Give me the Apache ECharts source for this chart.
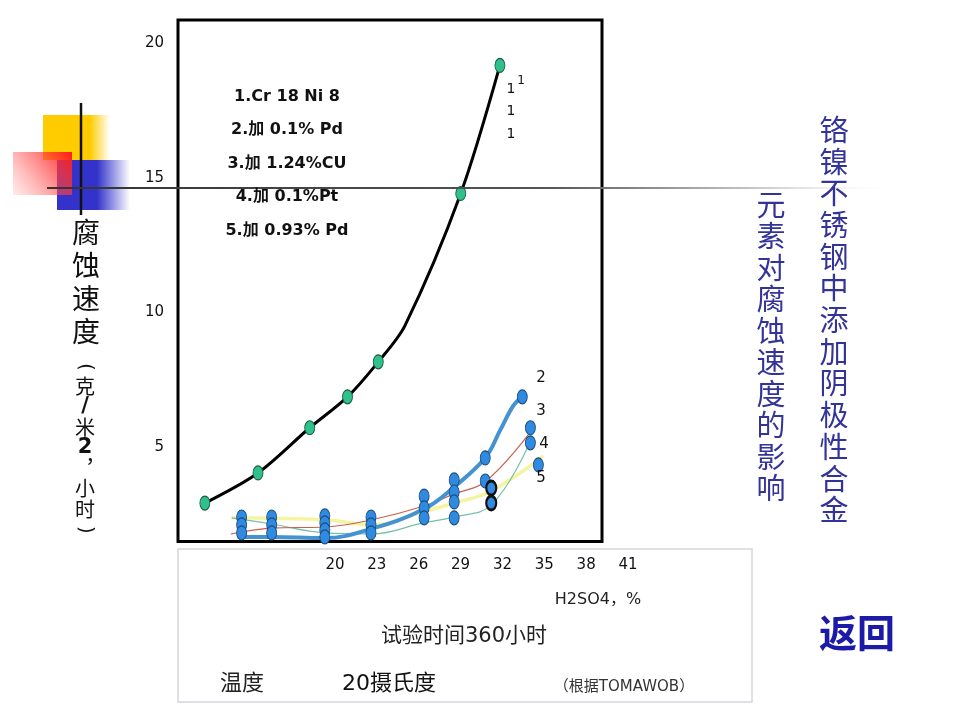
<!DOCTYPE html>
<html>
<head>
<meta charset="utf-8">
<script src="https://cdn.jsdelivr.net/npm/echarts@6/dist/echarts.min.js"></script>
<style>
  html, body { margin: 0; padding: 0; background: #fff; }
  #chart { width: 960px; height: 720px; }
</style>
</head>
<body>
<div id="chart"></div>
<script>
// bottom tick labels (H2SO4 %)
const xLabels = ["20", "23", "26", "29", "32", "35", "38", "41"];
const yTicks = [5, 10, 15, 20];

// curve 1: Cr18Ni8
const line1X = [10.7, 14.5, 18.2, 20.9, 23.1, 25.0, 29.0, 31.8];
const line1Y = [2.91, 4.03, 5.71, 6.86, 8.16, 9.5, 14.42, 19.18];
const mark1X = [10.7, 14.5, 18.2, 20.9, 23.1, 29.0, 31.8];
const mark1Y = [2.91, 4.03, 5.71, 6.86, 8.16, 14.42, 19.18];

// curve 2: + 0.1% Pd
const line2X = [13.05, 15.48, 19.28, 22.58, 26.38, 28.53, 30.75, 31.83, 32.76, 33.4];
const line2Y = [1.65, 1.65, 1.61, 1.95, 2.69, 3.51, 4.59, 5.63, 6.53, 6.86];
// curve 3: + 1.24% Cu
const line3X = [12.55, 15.48, 19.28, 22.58, 26.38, 28.53, 30.75, 33.83];
const line3Y = [1.76, 1.98, 2.02, 2.28, 2.8, 3.25, 3.7, 5.45];
// curve 4: + 0.1% Pt
const line4X = [12.62, 15.48, 19.28, 22.65, 26.31, 28.53, 31.18, 33.83];
const line4Y = [2.36, 2.13, 1.8, 1.76, 2.17, 2.39, 2.84, 5.04];
// curve 5: + 0.93% Pd
const line5X = [12.62, 19.43, 22.65, 26.31, 28.53, 31.18, 34.91];
const line5Y = [2.36, 2.28, 2.1, 2.58, 2.91, 3.36, 4.66];

// blue measurement points
const blueMarkX = [13.33, 13.33, 13.33, 15.48, 15.48, 15.48, 19.28, 19.28, 19.28, 19.28,
  22.58, 22.58, 22.58, 26.38, 26.38, 26.38, 28.53, 28.53, 28.53, 28.53,
  30.75, 30.75, 33.4, 33.98, 33.98, 34.55];
const blueMarkY = [2.39, 2.1, 1.8, 2.39, 2.1, 1.8, 2.43, 2.17, 1.91, 1.65,
  2.39, 2.1, 1.8, 3.17, 2.73, 2.36, 3.77, 3.32, 2.95, 2.36,
  4.59, 3.73, 6.86, 5.71, 5.15, 4.33];
const hlMarkX = [31.18, 31.18];
const hlMarkY = [3.47, 2.91];

const zip = (xs, ys) => xs.map((x, i) => [x, ys[i]]);
const ellipse = "path://M0,-10A10,10 0 1,1 0,10A10,10 0 1,1 0,-10Z";
const cjk = "'Noto Sans CJK SC', sans-serif";
const latin = "'DejaVu Sans', 'Noto Sans CJK SC', sans-serif";

function lineSeries(xs, ys, color, width, smooth) {
  return {
    type: "line", data: zip(xs, ys), smooth: smooth || 0.4, symbol: "none",
    lineStyle: { color: color, width: width }, z: 2
  };
}

// vertical text helper
function vtext(x, y, chars, size, color, lh, weight) {
  return {
    type: "text", x: x, y: y, z: 20,
    style: {
      text: chars.join("\n"), fill: color, font: (weight || "normal") + " " + size + "px " + cjk,
      lineHeight: lh, align: "center", verticalAlign: "top"
    }
  };
}
function txt(x, y, s, size, opts) {
  opts = opts || {};
  return {
    type: "text", x: x, y: y, z: 20, rotation: opts.rotation || 0,
    style: {
      text: s, fill: opts.color || "#111", font: (opts.weight || "normal") + " " + size + "px " + (opts.family || latin),
      align: opts.align || "center", verticalAlign: "middle"
    }
  };
}

const chart = echarts.init(document.getElementById("chart"));
chart.setOption({
  animation: false,
  backgroundColor: "#fff",
  grid: [
    { left: 178, top: 20, right: 358, bottom: 178.5, show: true, borderColor: "#000", borderWidth: 3, z: 3 },
    { left: 335, top: 548, width: 293, height: 6, show: false }
  ],
  xAxis: [
    { type: "value", min: 8.78, max: 39.1, show: false },
    {
      type: "category", gridIndex: 1, data: xLabels, boundaryGap: false,
      axisLine: { show: false }, axisTick: { show: false }, splitLine: { show: false },
      axisLabel: { interval: 0, margin: 4, fontSize: 15, color: "#111", fontFamily: "DejaVu Sans" }
    }
  ],
  yAxis: [
    {
      type: "value", min: 1.48, max: 20.87,
      axisLine: { show: false }, axisTick: { show: false }, splitLine: { show: false },
      axisLabel: { customValues: yTicks, margin: 14, fontSize: 15, color: "#111", fontFamily: "DejaVu Sans" }
    },
    { type: "value", gridIndex: 1, show: false }
  ],
  series: [
    lineSeries(line5X, line5Y, "rgba(245,243,150,0.9)", 3.5),
    lineSeries(line4X, line4Y, "#74c2a6", 1.2),
    lineSeries(line3X, line3Y, "#c9604e", 1.2),
    lineSeries(line2X, line2Y, "#4592d2", 4),
    lineSeries(line1X, line1Y, "#000", 3, 0.3),
    {
      type: "scatter", data: zip(mark1X, mark1Y), symbol: ellipse, symbolSize: [10, 14],
      itemStyle: { color: "#2fc08c", borderColor: "#1a5a42", borderWidth: 1, opacity: 1 }, z: 5
    },
    {
      type: "scatter", data: zip(blueMarkX, blueMarkY), symbol: ellipse, symbolSize: [10, 14],
      itemStyle: { color: "#2f8ae0", borderColor: "#1b4d80", borderWidth: 1, opacity: 1 }, z: 5
    },
    {
      type: "scatter", data: zip(hlMarkX, hlMarkY), symbol: ellipse, symbolSize: [10, 14],
      itemStyle: { color: "#2f8ae0", borderColor: "#111", borderWidth: 2.5, opacity: 1 }, z: 6
    }
  ],
  graphic: [
    // corner decoration
    { type: "rect", z: 1, shape: { x: 43, y: 115, width: 67, height: 45 },
      style: { fill: new echarts.graphic.LinearGradient(0, 0, 1, 0, [
        { offset: 0, color: "#ffcc00" }, { offset: 0.7, color: "#ffcc00" }, { offset: 1, color: "rgba(255,204,0,0)" }]) } },
    { type: "rect", z: 1, shape: { x: 57, y: 160, width: 73, height: 50 },
      style: { fill: new echarts.graphic.LinearGradient(0, 0, 1, 0, [
        { offset: 0, color: "#3333cc" }, { offset: 0.55, color: "#3333cc" }, { offset: 1, color: "rgba(51,51,204,0)" }]) } },
    { type: "rect", z: 1, shape: { x: 13, y: 152, width: 59, height: 43 },
      style: { fill: new echarts.graphic.LinearGradient(0, 1, 1, 0, [
        { offset: 0, color: "rgba(255,120,120,0.15)" }, { offset: 1, color: "#ff1a1a" }]) } },
    { type: "line", z: 2, shape: { x1: 81, y1: 103, x2: 81, y2: 215 }, style: { stroke: "#111", lineWidth: 2.5 } },
    { type: "line", z: 10, shape: { x1: 47, y1: 188, x2: 880, y2: 188 },
      style: { lineWidth: 2, stroke: new echarts.graphic.LinearGradient(0, 0, 1, 0, [
        { offset: 0, color: "#333" }, { offset: 0.6, color: "#555" }, { offset: 0.85, color: "#c8c8c8" }, { offset: 1, color: "rgba(230,230,230,0)" }]) } },
    // bottom info box
    { type: "rect", z: 1, shape: { x: 178, y: 549, width: 574, height: 153 },
      style: { fill: "none", stroke: "#d5d5de", lineWidth: 1.5 } },
    // legend
    txt(287, 97, "1.Cr 18 Ni 8", 16, { weight: "bold" }),
    txt(287, 130, "2.加 0.1% Pd", 16, { weight: "bold" }),
    txt(287, 164, "3.加 1.24%CU", 16, { weight: "bold" }),
    txt(287, 197, "4.加 0.1%Pt", 16, { weight: "bold" }),
    txt(287, 231, "5.加 0.93% Pd", 16, { weight: "bold" }),
    // curve labels
    txt(511, 89, "1", 14), txt(521, 81, "1", 12), txt(511, 111, "1", 14), txt(511, 134, "1", 14),
    txt(541, 378, "2", 15), txt(541, 411, "3", 15), txt(544, 444, "4", 15), txt(541, 478, "5", 15),
    // axis names and notes
    vtext(86, 216, ["腐", "蚀", "速", "度"], 28, "#111", 33),
    txt(85, 367, "(", 20, { rotation: -Math.PI / 2 }),
    {
      type: "text", x: 85, y: 376, z: 20,
      style: {
        text: "克\n{b|/}\n米\n{b|2}\n︐\n小\n时", fill: "#111", font: "20px " + cjk,
        lineHeight: 20.5, align: "center", verticalAlign: "top",
        rich: { b: { fontWeight: "bold", fontSize: 21, fontFamily: "DejaVu Sans", lineHeight: 20.5 } }
      }
    },
    txt(85, 530, ")", 20, { rotation: -Math.PI / 2 }),
    txt(598, 600, "H2SO4，%", 16, { color: "#222" }),
    txt(464, 637, "试验时间360小时", 21, { color: "#222" }),
    txt(242, 684, "温度", 22, { color: "#222" }),
    txt(389, 684, "20摄氏度", 22, { color: "#111" }),
    txt(624, 687, "（根据TOMAWOB）", 15, { color: "#333" }),
    // titles
    vtext(834, 114, "铬镍不锈钢中添加阴极性合金".split(""), 29, "#333399", 31.7),
    vtext(771, 189, "元素对腐蚀速度的影响".split(""), 29, "#333399", 31.5),
    txt(857, 633, "返回", 38, { color: "#1b1ba8", weight: "bold", family: cjk })
  ]
});
</script>
</body>
</html>
